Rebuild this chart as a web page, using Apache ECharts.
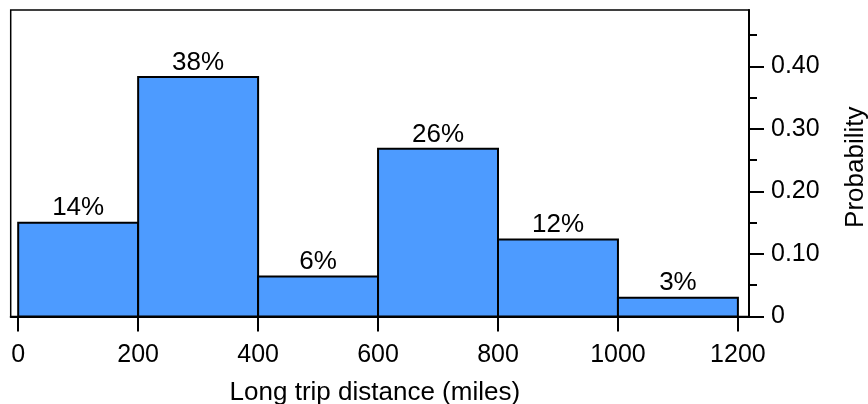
<!DOCTYPE html>
<html>
<head>
<meta charset="utf-8">
<script src="https://cdn.jsdelivr.net/npm/echarts@6/dist/echarts.min.js"></script>
<style>
html,body{margin:0;padding:0;background:#fff;}
#chart{width:868px;height:404px;}
</style>
</head>
<body>
<div id="chart"></div>
<script>
// Data
var binStart = [0, 200, 400, 600, 800, 1000];
var binEnd = [200, 400, 600, 800, 1000, 1200];
var probability = [0.150, 0.383, 0.064, 0.268, 0.123, 0.030];
var barLabels = ['14%', '38%', '6%', '26%', '12%', '3%'];
var xTicks = [0, 200, 400, 600, 800, 1000, 1200];
var yMajorTicks = [0, 0.1, 0.2, 0.3, 0.4];
var yMinorTicks = [0.05, 0.15, 0.25, 0.35, 0.45];

var FONT = "'Liberation Sans', Arial, Helvetica, sans-serif";

var chart = echarts.init(document.getElementById('chart'), null, {renderer: 'canvas'});

var seriesData = binStart.map(function (s, i) {
  return [s, binEnd[i], probability[i]];
});

var option = {
  animation: false,
  backgroundColor: '#ffffff',
  grid: {
    left: 10.7,
    right: 119,
    top: 10,
    bottom: 87.5,
    containLabel: false,
    outerBoundsMode: 'none',
    show: true,
    borderColor: '#000',
    borderWidth: 1.5,
    backgroundColor: 'transparent'
  },
  xAxis: {
    type: 'value',
    min: -12.5,
    max: 1218.5,
    position: 'bottom',
    name: 'Long trip distance (miles)',
    nameLocation: 'middle',
    nameGap: 63,
    nameTextStyle: {fontFamily: FONT, fontSize: 26, color: '#000', padding: [0, 10, 0, 0]},
    axisLine: {show: true, onZero: false, lineStyle: {color: '#000', width: 2}},
    axisTick: {show: true, customValues: xTicks, length: 15, inside: false, lineStyle: {color: '#000', width: 2}},
    axisLabel: {
      show: true, customValues: xTicks, margin: 26, fontFamily: FONT, fontSize: 25, color: '#000',
      formatter: function (v) { return String(v); }
    },
    splitLine: {show: false}
  },
  yAxis: [{
    type: 'value',
    min: 0,
    max: 0.49,
    position: 'right',
    name: 'Probability',
    nameLocation: 'middle',
    nameRotate: 90,
    nameGap: 93.5,
    nameTextStyle: {fontFamily: FONT, fontSize: 26, color: '#000', padding: [0, 8, 0, 0]},
    axisLine: {show: true, onZero: false, lineStyle: {color: '#000', width: 2}},
    axisTick: {show: true, customValues: yMajorTicks, length: 15, lineStyle: {color: '#000', width: 2}},
    axisLabel: {
      show: true, customValues: yMajorTicks, margin: 22, fontFamily: FONT, fontSize: 25, color: '#000',
      formatter: function (v) { return v === 0 ? '0' : v.toFixed(2); }
    },
    splitLine: {show: false}
  }, {
    type: 'value',
    min: 0,
    max: 0.49,
    position: 'right',
    axisLine: {show: false, onZero: false},
    axisTick: {show: true, customValues: yMinorTicks, length: 8, lineStyle: {color: '#000', width: 2}},
    axisLabel: {show: false},
    splitLine: {show: false}
  }],
  series: [{
    type: 'custom',
    xAxisIndex: 0,
    yAxisIndex: 0,
    data: seriesData,
    encode: {x: [0, 1], y: 2},
    renderItem: function (params, api) {
      var x0 = api.value(0), x1 = api.value(1), v = api.value(2);
      var lbl = barLabels[params.dataIndex];
      var p0 = api.coord([x0, v]);
      var p1 = api.coord([x1, 0]);
      return {
        type: 'group',
        children: [{
          type: 'rect',
          shape: {x: p0[0], y: p0[1], width: p1[0] - p0[0], height: p1[1] - p0[1]},
          style: {fill: '#4d9bff', stroke: '#000', lineWidth: 2}
        }, {
          type: 'text',
          x: (p0[0] + p1[0]) / 2,
          y: p0[1] - 1.5,
          style: {
            text: lbl, fill: '#000', font: '26px ' + FONT,
            align: 'center', verticalAlign: 'bottom'
          }
        }]
      };
    }
  }]
};
chart.setOption(option);
</script>
</body>
</html>
